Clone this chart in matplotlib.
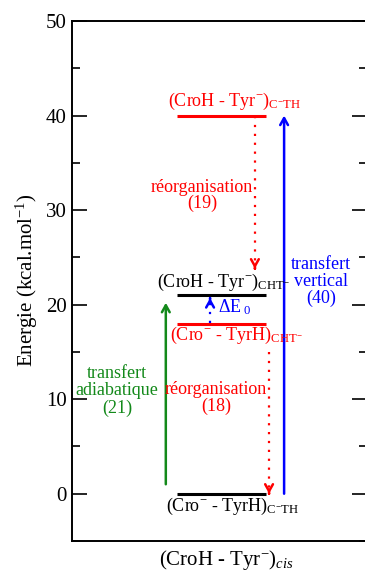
import matplotlib
matplotlib.use('Agg')
import matplotlib.pyplot as plt

plt.rcParams['font.family'] = 'Liberation Serif'
plt.rcParams['mathtext.fontset'] = 'custom'
plt.rcParams['mathtext.rm'] = 'Liberation Serif'
plt.rcParams['mathtext.it'] = 'Liberation Serif:italic'
plt.rcParams['mathtext.bf'] = 'Liberation Serif:bold'

# energy levels (kcal/mol)
level_values = [40, 21, 18, 0]
level_colors = ['red', 'black', 'red', 'black']
level_span = (0.356, 0.658)

# arrows: (x, start, end)
vertical_transfer = (0.719, 0, 40)
adiabatic_transfer = (0.318, 1, 20.2)
reorg_top = (0.620, 40, 23.8)
reorg_bottom = (0.668, 15, 0)
delta_e0 = (0.468, 18.1, 20.7)

GREEN = '#13891a'

fig = plt.figure(figsize=(3.65, 5.72), dpi=100)
ax = fig.add_axes([72 / 365, 31 / 572, 295 / 365, 520 / 572])

for val, col in zip(level_values, level_colors):
    ax.plot(level_span, [val, val], color=col, lw=2.2, solid_capstyle='butt')


def solid_arrow(x, y0, y1, color):
    ax.annotate('', xy=(x, y1), xytext=(x, y0),
                arrowprops=dict(arrowstyle='->,head_length=0.5,head_width=0.28',
                                color=color, lw=1.8, shrinkA=0, shrinkB=0))


def dotted_arrow(x, y0, y1, color):
    ax.plot([x, x], [y0, y1], color=color, lw=1.6, linestyle=(0, (1, 3)))
    d = 0.01 if y1 < y0 else -0.01
    ax.annotate('', xy=(x, y1), xytext=(x, y1 + d),
                arrowprops=dict(arrowstyle='->,head_length=0.5,head_width=0.28',
                                color=color, lw=1.8, shrinkA=0, shrinkB=0))


solid_arrow(vertical_transfer[0], vertical_transfer[1], vertical_transfer[2], 'blue')
solid_arrow(adiabatic_transfer[0], adiabatic_transfer[1], adiabatic_transfer[2], GREEN)
dotted_arrow(reorg_top[0], reorg_top[1], reorg_top[2], 'red')
dotted_arrow(reorg_bottom[0], reorg_bottom[1], reorg_bottom[2], 'red')
dotted_arrow(delta_e0[0], delta_e0[1], delta_e0[2], 'blue')

fs = 13
ax.text(0.325, 41.0, r'(CroH - Tyr$^{-}$)$_{\mathrm{C^{-}TH}}$', color='red',
        fontsize=fs, ha='left', va='baseline')
ax.text(0.288, 21.9, r'(CroH - Tyr$^{-}$)$_{\mathrm{CHT^{-}}}$', color='black',
        fontsize=fs, ha='left', va='baseline')
ax.text(0.495, 19.2, r'$\Delta$E$_{\ 0}$', color='blue',
        fontsize=fs, ha='left', va='baseline')
ax.text(0.332, 16.3, r'(Cro$^{-}$ - TyrH)$_{\mathrm{CHT^{-}}}$', color='red',
        fontsize=fs, ha='left', va='baseline')
ax.text(0.319, -1.8, r'(Cro$^{-}$ - TyrH)$_{\mathrm{C^{-}TH}}$', color='black',
        fontsize=fs, ha='left', va='baseline')

for txt, y in [('réorganisation', 31.9), ('(19)', 30.2)]:
    ax.text(0.441, y, txt, color='red', fontsize=fs, ha='center', va='baseline')
for txt, y in [('réorganisation', 10.6), ('(18)', 8.8)]:
    ax.text(0.488, y, txt, color='red', fontsize=fs, ha='center', va='baseline')
for txt, y in [('transfert', 23.8), ('vertical', 22.0), ('(40)', 20.2)]:
    ax.text(0.844, y, txt, color='blue', fontsize=fs, ha='center', va='baseline')
for txt, y in [('transfert', 12.2), ('adiabatique', 10.4), ('(21)', 8.5)]:
    ax.text(0.153, y, txt, color=GREEN, fontsize=fs, ha='center', va='baseline')

ax.set_xlim(0, 1)
ax.set_ylim(-5, 50)
ax.set_xticks([])
ax.set_yticks(range(0, 51, 10))
ax.set_yticks(range(-5, 51, 5), minor=True)
ax.tick_params(axis='y', which='major', direction='in', length=11, width=1.2,
               labelsize=15, right=True, pad=4)
ax.tick_params(axis='y', which='minor', direction='in', length=6, width=1.2,
               right=True)
for s in ax.spines.values():
    s.set_linewidth(1.4)

fig.text(27 / 365, 1 - 280 / 572, r'Energie (kcal.mol$^{-1}$)', rotation=90,
         fontsize=15, ha='center', va='center')
fig.text(159 / 365, 7 / 572, r'(CroH - Tyr$^{-}$)$_{cis}$', fontsize=15,
         ha='left', va='baseline')

fig.savefig('out.png', dpi=100)
